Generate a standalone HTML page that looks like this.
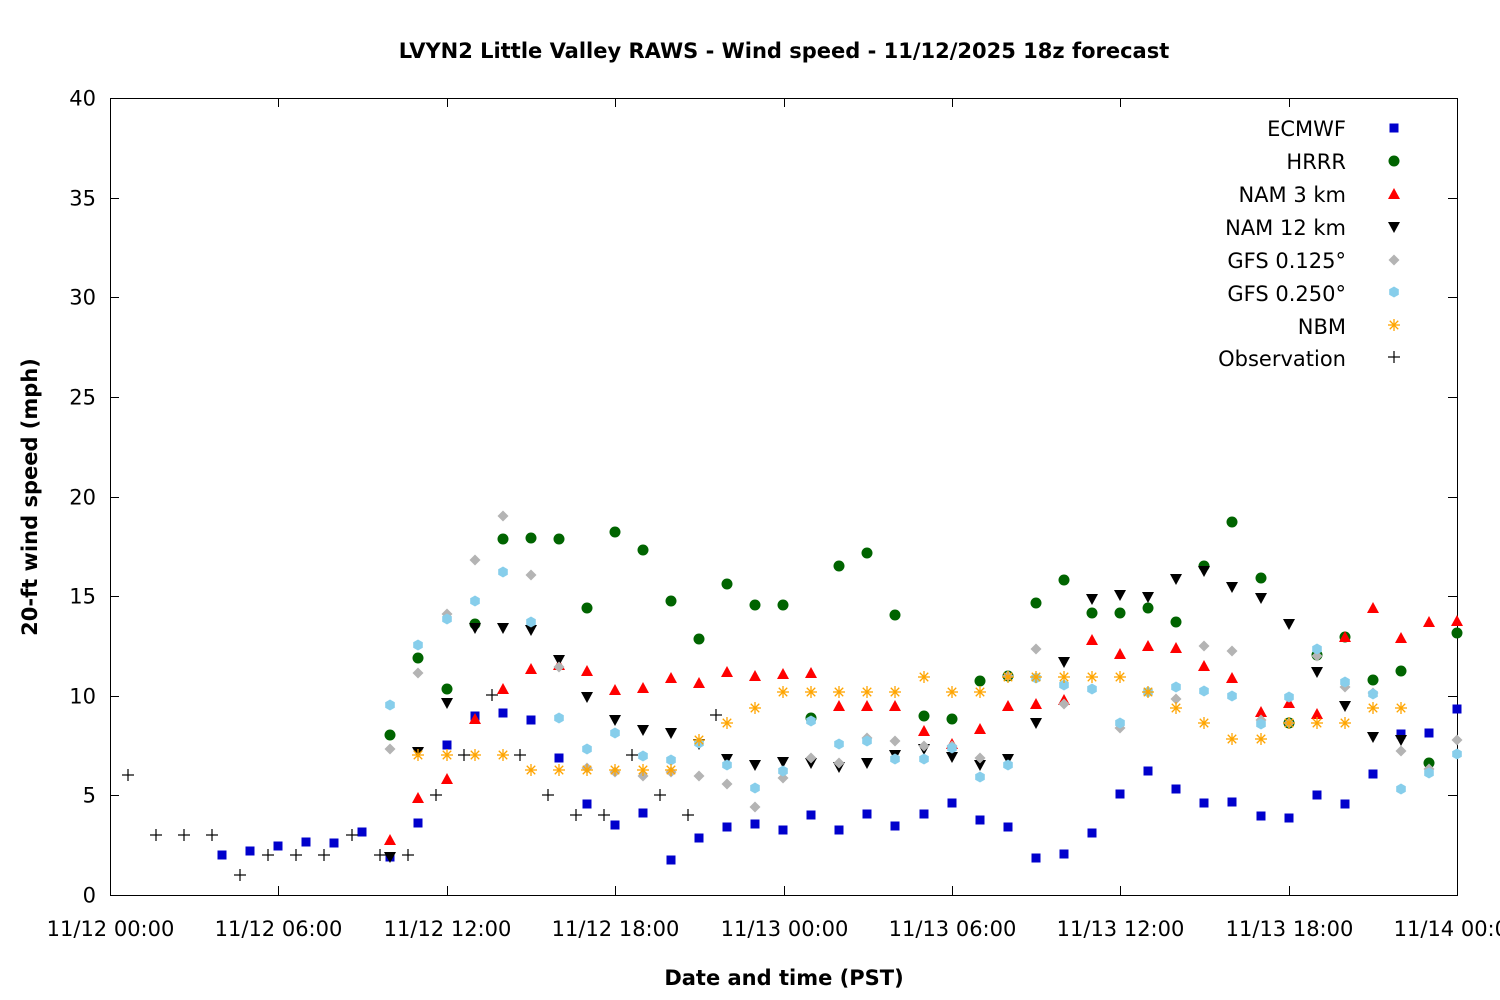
<!DOCTYPE html>
<html><head><meta charset="utf-8"><style>
html,body{margin:0;padding:0;background:#fff;}
svg{display:block;font-family:"DejaVu Sans","Liberation Sans",sans-serif;}
</style></head><body>
<svg id="s" width="1500" height="1000" xmlns="http://www.w3.org/2000/svg">
<rect width="1500" height="1000" fill="#fff"/>
<text x="784" y="58" text-anchor="middle" font-size="21" font-weight="bold">LVYN2 Little Valley RAWS - Wind speed - 11/12/2025 18z forecast</text>
<text x="784" y="985" text-anchor="middle" font-size="21" font-weight="bold">Date and time (PST)</text>
<text transform="translate(37,497) rotate(-90)" text-anchor="middle" font-size="21" font-weight="bold">20-ft wind speed (mph)</text>
<g id="axes" stroke="#000" stroke-width="1" fill="none"></g>
<g id="lbl" font-size="21" fill="#000"></g>
<g id="pts"></g>
<g font-size="21" text-anchor="end">
<text x="1346" y="136">ECMWF</text>
<text x="1346" y="169">HRRR</text>
<text x="1346" y="202">NAM 3 km</text>
<text x="1346" y="235">NAM 12 km</text>
<text x="1346" y="268">GFS 0.125°</text>
<text x="1346" y="301">GFS 0.250°</text>
<text x="1346" y="334">NBM</text>
<text x="1346" y="366">Observation</text>
</g>
</svg>
<script>
const NS="http://www.w3.org/2000/svg";
const s=document.getElementById('s'),ax=document.getElementById('axes'),lb=document.getElementById('lbl'),P=document.getElementById('pts');
function el(p,t,a){const e=document.createElementNS(NS,t);for(const k in a)e.setAttribute(k,a[k]);p.appendChild(e);return e;}
el(ax,'rect',{x:110.5,y:98.5,width:1347,height:797});
for(let i=0;i<=8;i++){const y=Math.round(895-i*99.625)+.5;
 el(ax,'line',{x1:110,y1:y,x2:119,y2:y});el(ax,'line',{x1:1448,y1:y,x2:1457,y2:y});
 const t=el(lb,'text',{x:96,y:y+7,'text-anchor':'end'});t.textContent=i*5;}
const xl=["11/12 00:00","11/12 06:00","11/12 12:00","11/12 18:00","11/13 00:00","11/13 06:00","11/13 12:00","11/13 18:00","11/14 00:00"];
for(let i=0;i<=8;i++){const x=Math.round(110+i*168.375)+.5;
 el(ax,'line',{x1:x,y1:895,x2:x,y2:886});el(ax,'line',{x1:x,y1:98,x2:x,y2:107});
 const t=el(lb,'text',{x:x,y:936,'text-anchor':'middle'});t.textContent=xl[i];}
function mk(type,x,y){
 switch(type){
 case 'sq':el(P,'rect',{x:x-4.5,y:y-4.5,width:9,height:9,fill:'#0000cc'});break;
 case 'ci':el(P,'circle',{cx:x,cy:y,r:5.5,fill:'#006400'});break;
 case 'up':el(P,'polygon',{points:`${x},${y-6} ${x+6},${y+5} ${x-6},${y+5}`,fill:'#ff0000'});break;
 case 'dn':el(P,'polygon',{points:`${x},${y+6} ${x+6},${y-5} ${x-6},${y-5}`,fill:'#000'});break;
 case 'di':el(P,'polygon',{points:`${x},${y-5.5} ${x+5.5},${y} ${x},${y+5.5} ${x-5.5},${y}`,fill:'#b4b4b4'});break;
 case 'hx':{let p=[];for(let k=0;k<6;k++){const a=Math.PI/3*k+Math.PI/6;p.push((x+5.5*Math.cos(a)).toFixed(1)+','+(y+5.5*Math.sin(a)).toFixed(1));}el(P,'polygon',{points:p.join(' '),fill:'#87ceeb'});break;}
 case 'as':{const g=el(P,'g',{stroke:'#ffa500','stroke-width':1.3});for(let k=0;k<4;k++){const a=Math.PI/4*k;el(g,'line',{x1:x-6*Math.cos(a),y1:y-6*Math.sin(a),x2:x+6*Math.cos(a),y2:y+6*Math.sin(a)});}break;}
 case 'pl':{const g=el(P,'g',{stroke:'#000','stroke-width':1.2});el(g,'line',{x1:x-6,y1:y,x2:x+6,y2:y});el(g,'line',{x1:x,y1:y-6,x2:x,y2:y+6});break;}
 }}
const D={
sq:[[222,855],[250,851],[278,846],[306,842],[334,843],[362,832],[390,857],[418,823],[447,745],[475,716],[503,713],[531,720],[559,758],[587,804],[615,825],[643,813],[671,860],[699,838],[727,827],[755,824],[783,830],[811,815],[839,830],[867,814],[895,826],[924,814],[952,803],[980,820],[1008,827],[1036,858],[1064,854],[1092,833],[1120,794],[1148,771],[1176,789],[1204,803],[1232,802],[1261,816],[1289,818],[1317,795],[1345,804],[1373,774],[1401,734],[1429,733],[1457,709]],
ci:[[390,735],[418,658],[447,689],[475,624],[503,539],[531,538],[559,539],[587,608],[615,532],[643,550],[671,601],[699,639],[727,584],[755,605],[783,605],[811,718],[839,566],[867,553],[895,615],[924,716],[952,719],[980,681],[1008,676],[1036,603],[1064,580],[1092,613],[1120,613],[1148,608],[1176,622],[1204,566],[1232,522],[1261,578],[1289,723],[1317,655],[1345,637],[1373,680],[1401,671],[1429,763],[1457,633]],
up:[[390,840],[418,798],[447,779],[475,719],[503,689],[531,669],[559,665],[587,671],[615,690],[643,688],[671,678],[699,683],[727,672],[755,676],[783,674],[811,673],[839,706],[867,706],[895,706],[924,731],[952,744],[980,729],[1008,706],[1036,704],[1064,700],[1092,640],[1120,654],[1148,646],[1176,648],[1204,666],[1232,678],[1261,712],[1289,703],[1317,714],[1345,637],[1373,608],[1401,638],[1429,622],[1457,621]],
dn:[[390,857],[418,752],[447,703],[475,628],[503,628],[531,630],[559,660],[587,697],[615,720],[643,730],[671,733],[699,744],[727,759],[755,765],[783,762],[811,763],[839,767],[867,763],[895,755],[924,749],[952,757],[980,765],[1008,759],[1036,723],[1064,662],[1092,599],[1120,595],[1148,597],[1176,579],[1204,571],[1232,587],[1261,598],[1289,624],[1317,672],[1345,706],[1373,737],[1401,740]],
di:[[390,749],[418,673],[447,614],[475,560],[503,516],[531,575],[559,667],[587,768],[615,772],[643,776],[671,772],[699,776],[727,784],[755,807],[783,778],[811,758],[839,763],[867,738],[895,741],[924,746],[952,746],[980,758],[1008,676],[1036,649],[1064,704],[1120,728],[1148,692],[1176,699],[1204,646],[1232,651],[1261,720],[1289,723],[1317,656],[1345,687],[1373,693],[1401,751],[1429,769],[1457,740]],
hx:[[390,705],[418,645],[447,619],[475,601],[503,572],[531,622],[559,718],[587,749],[615,733],[643,756],[671,760],[699,743],[727,765],[755,788],[783,771],[811,721],[839,744],[867,741],[895,759],[924,759],[952,748],[980,777],[1008,765],[1036,678],[1064,685],[1092,689],[1120,723],[1148,692],[1176,687],[1204,691],[1232,696],[1261,724],[1289,697],[1317,649],[1345,682],[1373,694],[1401,789],[1429,773],[1457,754]],
as:[[418,755],[447,755],[475,755],[503,755],[531,770],[559,770],[587,770],[615,770],[643,770],[671,770],[699,740],[727,723],[755,708],[783,692],[811,692],[839,692],[867,692],[895,692],[924,677],[952,692],[980,692],[1008,677],[1036,677],[1064,677],[1092,677],[1120,677],[1148,692],[1176,708],[1204,723],[1232,739],[1261,739],[1289,723],[1317,723],[1345,723],[1373,708],[1401,708]],
pl:[[128,775],[156,835],[184,835],[212,835],[240,875],[268,855],[296,855],[324,855],[352,835],[380,855],[408,855],[436,795],[464,755],[492,695],[520,755],[548,795],[576,815],[604,815],[632,755],[660,795],[688,815],[716,715]]};
for(const k of ['sq','ci','up','dn','di','hx','as','pl'])for(const [x,y] of D[k])mk(k,x,y);
const L=[['sq',128],['ci',161],['up',194],['dn',227],['di',260],['hx',292],['as',325],['pl',357]];
for(const [k,y] of L)mk(k,1394,y);
</script>
</body></html>
